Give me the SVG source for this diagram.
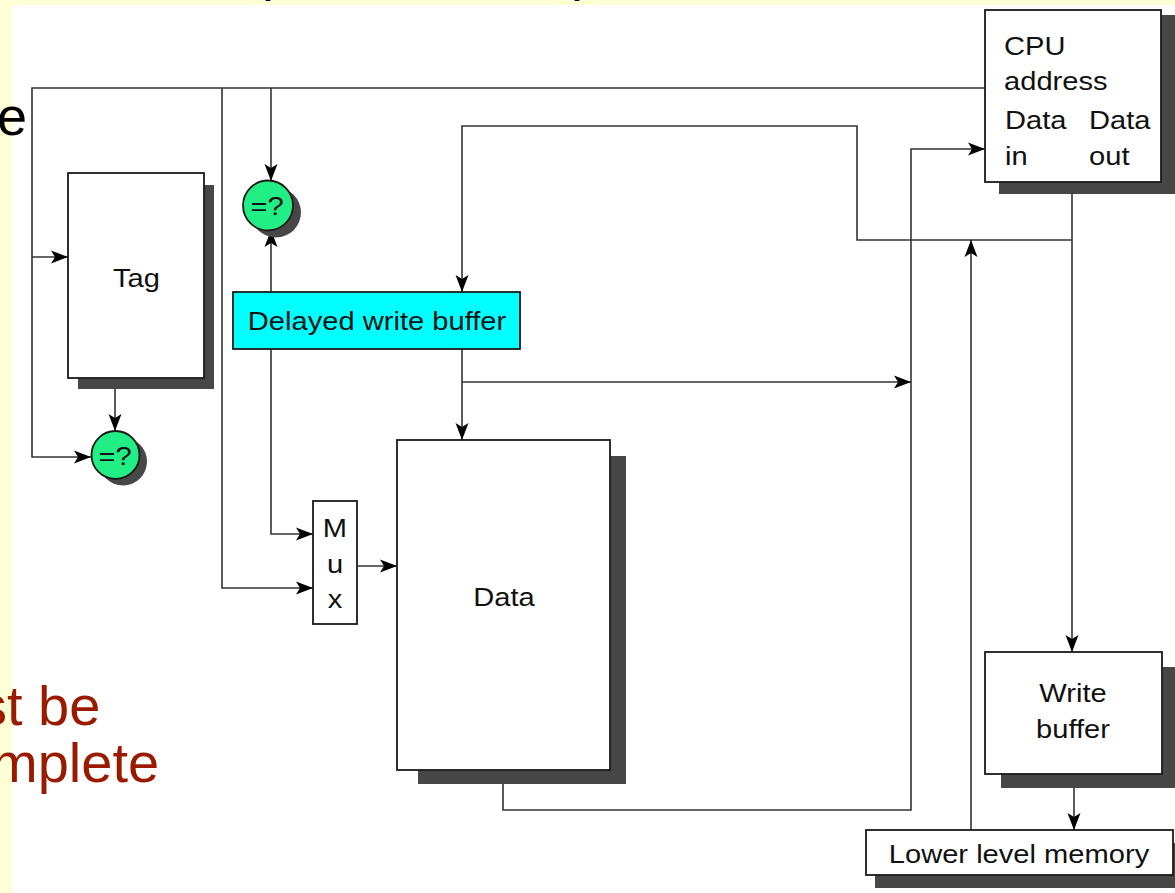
<svg xmlns="http://www.w3.org/2000/svg" width="1175" height="893" viewBox="0 0 1175 893">
<style>
.bg{fill:#ffffff}
.yel{fill:#ffffd6}
.box{fill:#ffffff;stroke:#1a1a1a;stroke-width:1.8}
.cyan{fill:#00ffff;stroke:#1a1a1a;stroke-width:1.8}
.cmp{fill:#22ee86;stroke:#1a1a1a;stroke-width:1.8}
.sh{fill:#474747}
.ln{fill:none;stroke:#333;stroke-width:1.6}
.t{font-family:"Liberation Sans",Arial,sans-serif;font-size:26px;fill:#111}
.big{font-family:"Liberation Sans",Arial,sans-serif;font-size:54px}
.red{font-family:"Liberation Sans",Arial,sans-serif;font-size:56px;fill:#9a1a00}
</style>
<defs>
<marker id="ah" markerUnits="userSpaceOnUse" markerWidth="20" markerHeight="14" viewBox="0 -7 20 14" refX="17" refY="0" orient="auto">
<path d="M0,-6.5 L17,0 L0,6.5 L4,0 Z" fill="#000"/>
</marker>
</defs>
<rect class="bg" x="0" y="0" width="1175" height="893"/>
<rect class="yel" x="0" y="0" width="1175" height="5"/>
<rect class="yel" x="0" y="0" width="12" height="893"/>
<g id="slide-text">
<text class="big" x="262" y="-10.5" fill="#000">p</text>
<text class="big" x="571" y="-10.5" fill="#000">p</text>
<text class="big" x="-3" y="135" fill="#000">e</text>
<text class="red" x="-21" y="725">st be</text>
<text class="red" x="-9" y="782">mplete</text>
</g>
<g id="connectors">
<polyline class="ln" points="985,88 32,88 32,457 91,457" marker-end="url(#ah)"/>
<polyline class="ln" points="32,257 68,257" marker-end="url(#ah)"/>
<polyline class="ln" points="222,88 222,588 313,588" marker-end="url(#ah)"/>
<polyline class="ln" points="271,88 271,181" marker-end="url(#ah)"/>
<polyline class="ln" points="271,292 271,230" marker-end="url(#ah)"/>
<polyline class="ln" points="271,349 271,534 313,534" marker-end="url(#ah)"/>
<polyline class="ln" points="115,378 115,431" marker-end="url(#ah)"/>
<polyline class="ln" points="357,566 397,566" marker-end="url(#ah)"/>
<polyline class="ln" points="1072,182 1072,652" marker-end="url(#ah)"/>
<polyline class="ln" points="1072,240 857,240 857,126 462,126 462,292" marker-end="url(#ah)"/>
<polyline class="ln" points="462,349 462,440" marker-end="url(#ah)"/>
<polyline class="ln" points="462,382 911,382" marker-end="url(#ah)"/>
<polyline class="ln" points="503,770 503,810 911,810 911,149 985,149" marker-end="url(#ah)"/>
<polyline class="ln" points="1074,774 1074,830" marker-end="url(#ah)"/>
<polyline class="ln" points="971,830 971,240" marker-end="url(#ah)"/>
</g>
<g id="tag">
<rect class="sh" x="78" y="185" width="136" height="204"/>
<rect class="box" x="68" y="173" width="136" height="205"/>
<text class="t" text-anchor="middle" transform="translate(136.5,287) scale(1.12,1)">Tag</text>
</g>
<g id="cmp-top">
<circle class="sh" cx="276" cy="212.5" r="25"/>
<circle class="cmp" cx="268" cy="205.5" r="25"/>
<text class="t" text-anchor="middle" transform="translate(267,215) scale(1.12,1)">=?</text>
</g>
<g id="cmp-bottom">
<circle class="sh" cx="123" cy="461.5" r="24"/>
<circle class="cmp" cx="115.5" cy="455" r="24"/>
<text class="t" text-anchor="middle" transform="translate(115,464.5) scale(1.12,1)">=?</text>
</g>
<g id="delayed-write-buffer">
<rect class="cyan" x="233" y="292" width="287" height="57"/>
<text class="t" text-anchor="middle" transform="translate(377,330) scale(1.12,1)">Delayed write buffer</text>
</g>
<g id="mux">
<rect class="box" x="313" y="501" width="44" height="123"/>
<text class="t" text-anchor="middle" transform="translate(335,537) scale(1.12,1)">M</text>
<text class="t" text-anchor="middle" transform="translate(335,573) scale(1.12,1)">u</text>
<text class="t" text-anchor="middle" transform="translate(335,608) scale(1.12,1)">x</text>
</g>
<g id="data">
<rect class="sh" x="418" y="456" width="208" height="328"/>
<rect class="box" x="397" y="440" width="213" height="330"/>
<text class="t" text-anchor="middle" transform="translate(504,606) scale(1.12,1)">Data</text>
</g>
<g id="cpu">
<rect class="sh" x="999" y="15" width="190" height="179"/>
<rect class="box" x="985" y="10" width="176" height="172"/>
<text class="t" transform="translate(1004,55) scale(1.12,1)">CPU</text>
<text class="t" transform="translate(1004,90) scale(1.12,1)">address</text>
<text class="t" transform="translate(1005,129) scale(1.12,1)">Data</text>
<text class="t" transform="translate(1089,129) scale(1.12,1)">Data</text>
<text class="t" transform="translate(1005,165) scale(1.12,1)">in</text>
<text class="t" transform="translate(1089,165) scale(1.12,1)">out</text>
</g>
<g id="write-buffer">
<rect class="sh" x="1001" y="667" width="190" height="121"/>
<rect class="box" x="985" y="652" width="177" height="122"/>
<text class="t" text-anchor="middle" transform="translate(1073,702) scale(1.12,1)">Write</text>
<text class="t" text-anchor="middle" transform="translate(1073,738) scale(1.12,1)">buffer</text>
</g>
<g id="lower-level-memory">
<rect class="sh" x="875" y="843" width="310" height="45"/>
<rect class="box" x="866" y="830" width="307" height="45"/>
<text class="t" text-anchor="middle" transform="translate(1019,863) scale(1.12,1)">Lower level memory</text>
</g>
</svg>
